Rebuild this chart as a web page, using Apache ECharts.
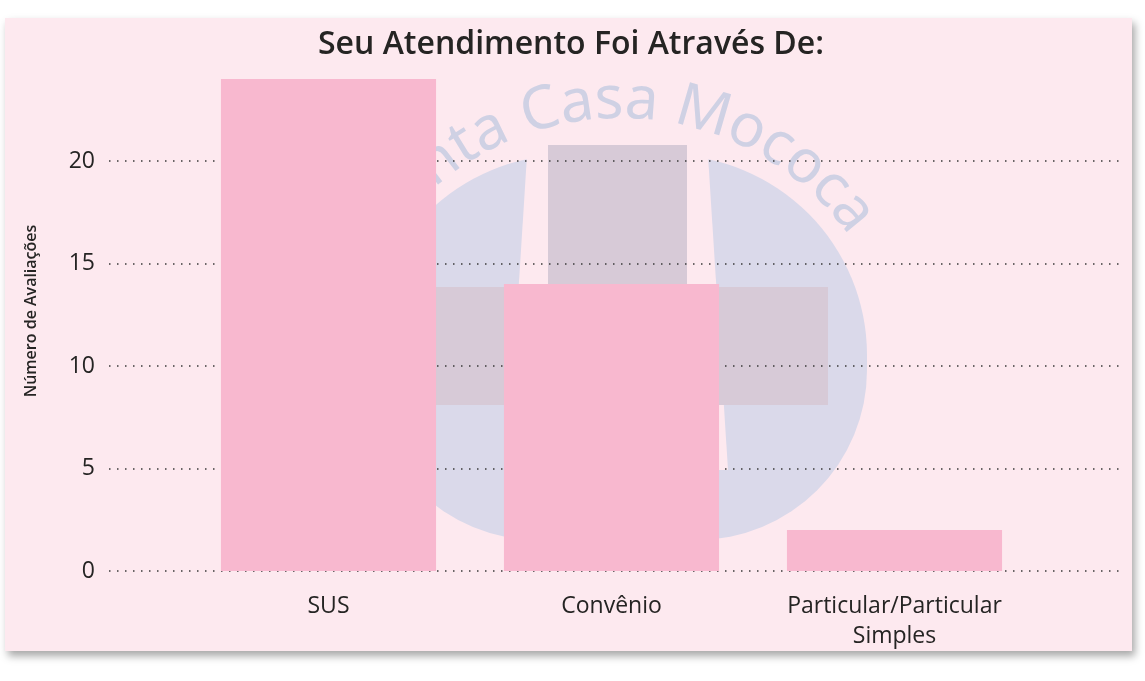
<!DOCTYPE html>
<html>
<head>
<meta charset="utf-8">
<script src="https://cdn.jsdelivr.net/npm/echarts@6/dist/echarts.min.js"></script>
<style>
  html, body { margin: 0; padding: 0; background: #fff; }
  .card {
    position: absolute; left: 5px; top: 18px; width: 1127px; height: 633px;
    background: #fde9ef; box-shadow: 3px 5px 8px rgba(0, 0, 0, 0.35);
  }
  #chart { position: absolute; left: 0; top: 0; width: 1145px; height: 681px; }
</style>
</head>
<body>
<div class="card"></div>
<div id="chart"></div>
<script>
const categories = ['SUS', 'Convênio', 'Particular/Particular\nSimples']
const values = [24, 14, 2]
const yTicks = [0, 5, 10, 15, 20]
const yMax = 24

const textColor = '#252423'
const barColor = '#f8b8cf'
const bgColor = '#fde9ef'

// watermark letters placed along an arc (logo behind the plot)
function arcLetters (str, cx, cy, r, anchorIndex, anchorDeg, font, spacing) {
  const ctx = document.createElement('canvas').getContext('2d')
  ctx.font = font
  const out = []
  let pos = 0
  const centers = []
  for (const ch of str) {
    const w = ctx.measureText(ch).width + spacing
    centers.push(pos + w / 2)
    pos += w
  }
  const a0 = anchorDeg * Math.PI / 180
  Array.from(str).forEach((ch, i) => {
    if (ch === ' ') return
    const t = a0 + (centers[i] - centers[anchorIndex]) / r
    out.push({
      type: 'text',
      z: -5,
      x: cx + r * Math.sin(t),
      y: cy - r * Math.cos(t),
      rotation: -t,
      style: {
        text: ch,
        font,
        fill: '#cfd1e4',
        align: 'center',
        verticalAlign: 'middle'
      }
    })
  })
  return out
}

const watermark = [
  {
    type: 'rect', z: -8,
    shape: { x: 368, y: 155, width: 499, height: 385, r: [200, 200, 170, 170] },
    style: { fill: '#dad9ea' }
  },
  {
    type: 'polygon', z: -7,
    shape: { points: [[528, 140], [707, 140], [728, 470], [507, 470]] },
    style: { fill: bgColor }
  },
  {
    type: 'rect', z: -6,
    shape: { x: 548, y: 145, width: 139, height: 380 },
    style: { fill: '#d7cad7' }
  },
  {
    type: 'rect', z: -6,
    shape: { x: 407, y: 287, width: 421, height: 118 },
    style: { fill: '#d7cad7' }
  }
].concat(arcLetters('Santa Casa Mococa', 620, 400, 299, 6, -15.5, '60px "Noto Sans"', 1.5))

const chart = echarts.init(document.getElementById('chart'), null, { renderer: 'canvas' })

const option = {
  backgroundColor: 'transparent',
  animation: false,
  title: {
    text: 'Seu Atendimento Foi Através De:',
    left: 313,
    top: 24,
    textStyle: {
      fontFamily: 'Open Sans',
      fontWeight: 600,
      fontSize: 32,
      color: textColor
    }
  },
  graphic: { elements: watermark },
  grid: [
    { left: 109, right: 20, top: 79, bottom: 110 },
    { left: 187, right: 109, top: 79, bottom: 110 }
  ],
  xAxis: [
    { gridIndex: 0, type: 'value', show: false, min: 0, max: 1 },
    {
      gridIndex: 1,
      type: 'category',
      data: categories,
      axisLine: { show: false },
      axisTick: { show: false },
      axisLabel: {
        color: textColor,
        fontFamily: 'Open Sans',
        fontSize: 23,
        lineHeight: 30,
        margin: 20
      }
    }
  ],
  yAxis: [
    {
      gridIndex: 0,
      type: 'value',
      min: yTicks[0],
      max: yMax,
      interval: yTicks[1] - yTicks[0],
      name: 'Número de Avaliações',
      nameLocation: 'middle',
      nameGap: 70,
      nameTextStyle: {
        color: textColor,
        fontFamily: 'Open Sans',
        fontWeight: 600,
        fontSize: 16,
        padding: [0, 0, 0, 28]
      },
      axisLine: { show: false },
      axisTick: { show: false },
      axisLabel: {
        color: textColor,
        fontFamily: 'Open Sans',
        fontSize: 23,
        margin: 14,
        showMaxLabel: false
      },
      splitLine: {
        showMaxLine: false,
        lineStyle: { color: '#3a3a3a', type: [1.5, 6.5], width: 1.5 }
      }
    },
    {
      gridIndex: 1,
      type: 'value',
      min: yTicks[0],
      max: yMax,
      show: false,
      splitLine: { show: false }
    }
  ],
  series: [
    {
      type: 'bar',
      xAxisIndex: 1,
      yAxisIndex: 1,
      data: values,
      barCategoryGap: '24%',
      itemStyle: { color: barColor }
    }
  ]
}

chart.setOption(option)
window.addEventListener('resize', chart.resize)
</script>
</body>
</html>
